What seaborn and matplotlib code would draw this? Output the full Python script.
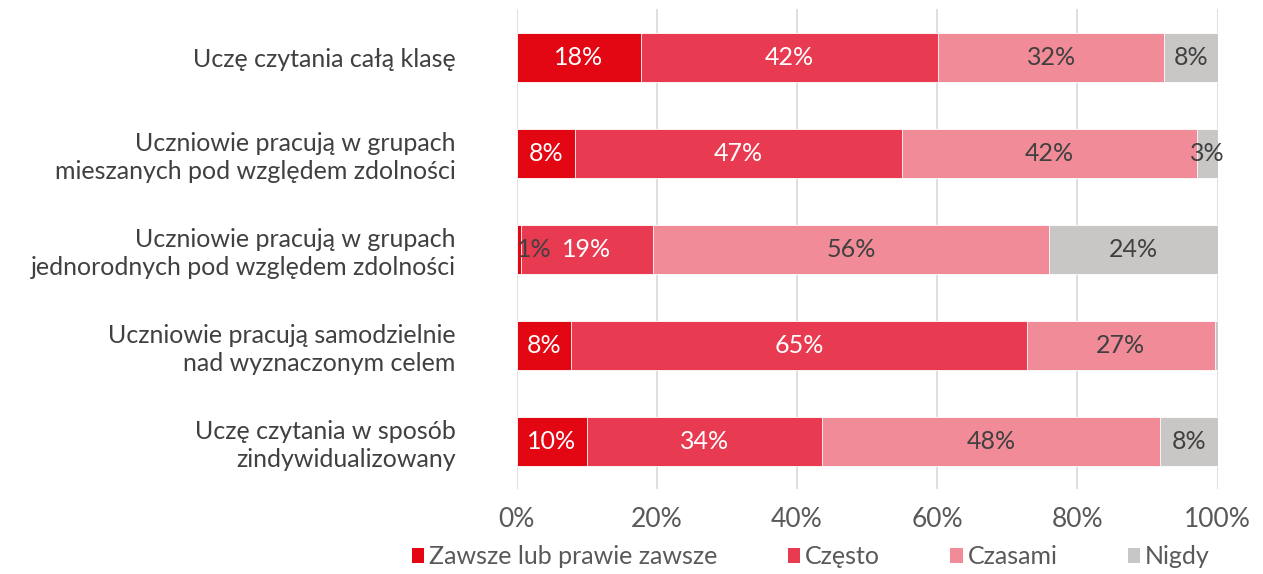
import numpy as np
import pandas as pd
import matplotlib.pyplot as plt
import seaborn as sns
from matplotlib.patches import Patch

# dane
kategorie = [
    "Uczę czytania całą klasę",
    "Uczniowie pracują w grupach\nmieszanych pod względem zdolności",
    "Uczniowie pracują w grupach\njednorodnych pod względem zdolności",
    "Uczniowie pracują samodzielnie\nnad wyznaczonym celem",
    "Uczę czytania w sposób\nzindywidualizowany",
]
serie = ["Zawsze lub prawie zawsze", "Często", "Czasami", "Nigdy"]
zawsze = [17.7, 8.4, 0.6, 7.8, 10.0]
czesto = [42.4, 46.6, 18.9, 65.0, 33.6]
czasami = [32.3, 42.0, 56.4, 26.8, 48.2]
nigdy = [7.6, 3.0, 24.1, 0.4, 8.2]

KOLORY = ["#E30613", "#E83A50", "#F08B97", "#C9C7C6"]
KOLOR_TXT = ["white", "white", "#404040", "#404040"]

sns.set_theme(style="white")
plt.rcParams["font.family"] = ["Lato", "DejaVu Sans"]

wartosci = np.array([zawsze, czesto, czasami, nigdy])
skum = np.cumsum(wartosci, axis=0)

fig = plt.figure(figsize=(12.63, 5.74), dpi=100)
ax = fig.add_axes([0.409, 0.148, 0.555, 0.836])

# stos: rysujemy od najdluzszego (suma) do najkrotszego
for i in range(len(serie) - 1, -1, -1):
    df = pd.DataFrame({"kat": kategorie, "val": skum[i]})
    sns.barplot(data=df, x="val", y="kat", color=KOLORY[i], width=0.51,
                edgecolor="white", linewidth=0.6, saturation=1, ax=ax, zorder=2)

# etykiety
for i in range(len(serie)):
    for j in range(len(kategorie)):
        v = wartosci[i, j]
        if round(v) < 1:
            continue
        start = skum[i, j] - v
        if v < 2:
            ax.text(start, j, f"{round(v):.0f}%", ha="left", va="center",
                    fontsize=18, color="#404040", zorder=3)
        else:
            ax.text(start + v / 2, j, f"{round(v):.0f}%", ha="center", va="center",
                    fontsize=18, color=KOLOR_TXT[i], zorder=3)

ax.set_xlim(0, 100)
ax.set_ylim(4.5, -0.5)
ax.set_xticks(np.arange(0, 101, 20))
ax.set_xticklabels([f"{t}%" for t in range(0, 101, 20)])
ax.xaxis.grid(True, color="#D9D9D9", lw=1.2, zorder=0)
ax.set_axisbelow(True)
ax.set_xlabel("")
ax.set_ylabel("")
for s in ax.spines.values():
    s.set_visible(False)
ax.tick_params(axis="x", labelsize=19, labelcolor="#595959", length=0, pad=13)
ax.tick_params(axis="y", labelsize=18, labelcolor="#404040", length=0, pad=44)
for lab in ax.get_yticklabels():
    lab.set_horizontalalignment("right")
    lab.set_multialignment("right")
    lab.set_linespacing(1.25)

uchwyty = [Patch(facecolor=c, edgecolor="none") for c in KOLORY]
fig.legend(uchwyty, serie, loc="center", bbox_to_anchor=(0.642, 0.03), ncol=4,
           frameon=False, fontsize=18, handlelength=0.5, handleheight=0.5,
           handletextpad=0.2, columnspacing=2.8, labelcolor="#595959")

plt.savefig("out.png", dpi=100)
